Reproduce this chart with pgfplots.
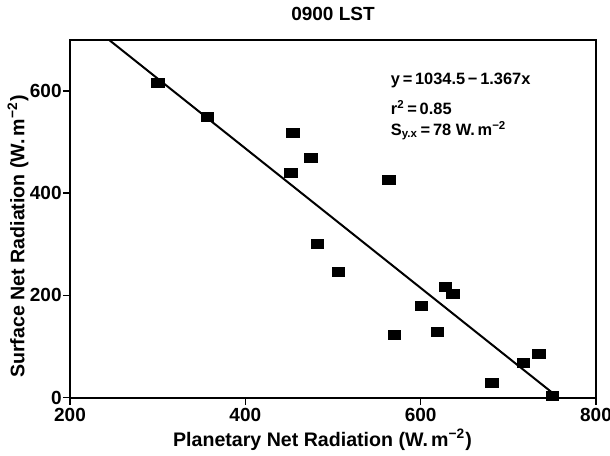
\documentclass[border=0pt]{standalone}
\usepackage{fontspec}
\setmainfont{Liberation Sans}
\usepackage{pgfplots}
\pgfplotsset{compat=1.18}
\begin{document}
\begin{tikzpicture}
\begin{axis}[name=ax, scale only axis, width=263pt, height=178.75pt,
  xmin=200, xmax=800, ymin=0, ymax=700,
  xtick={200,400,600,800}, ytick={0,200,400,600},
  xtick pos=bottom, ytick pos=left,
  axis line style={line width=1pt},
  tick style={line width=0.8pt, black}, tick align=outside, major tick length=3.5pt,
  /pgf/number format/assume math mode=true,
  tick label style={font=\fontsize{9.5}{11}\selectfont\bfseries},
  yticklabel style={inner xsep=0.5pt},
  xticklabel style={inner ysep=1.5pt},
  xlabel={Planetary Net Radiation (W.\,m\textsuperscript{−2})},
  ylabel={Surface Net Radiation (W.\,m\textsuperscript{−2})},
  label style={font=\fontsize{9.8}{11}\selectfont\bfseries},
  ylabel style={at={(axis description cs:-0.099,0.45)}, anchor=center},
  xlabel style={at={(axis description cs:0.48,-0.118)}, anchor=center},
  title={0900 LST},
  title style={font=\fontsize{9.5}{11}\selectfont\bfseries},
]
\addplot[only marks, mark=square*, mark size=2.5pt, mark options={xscale=1.25, yscale=0.9, fill=black, draw=black}] table {
x y
300 616
357 550
454 518
475 469
452 440
564 426
482 300
506 246
628 216
637 202
601 179
570 122
619 128
735 86
717 67
681 28
750 3
};
\addplot[line width=1pt, black, no marks] coordinates {(242,703.7) (757,0)};
\node[anchor=west, font=\fontsize{8.2}{10}\selectfont\bfseries] at (axis cs:558,620) {y\,=\,1034.5\,−\,1.367x};
\node[anchor=west, font=\fontsize{8.2}{10}\selectfont\bfseries] at (axis cs:558,568) {r\textsuperscript{2}\,=\,0.85};
\node[anchor=west, font=\fontsize{8.2}{10}\selectfont\bfseries] at (axis cs:558,522) {S\textsubscript{y.x}\,=\,78 W.\,m\textsuperscript{−2}};
\end{axis}
\pgfresetboundingbox
\path[use as bounding box] ([shift={(-35pt,-28.75pt)}]ax.south west) rectangle ([shift={(7pt,20pt)}]ax.north east);
\end{tikzpicture}
\end{document}
